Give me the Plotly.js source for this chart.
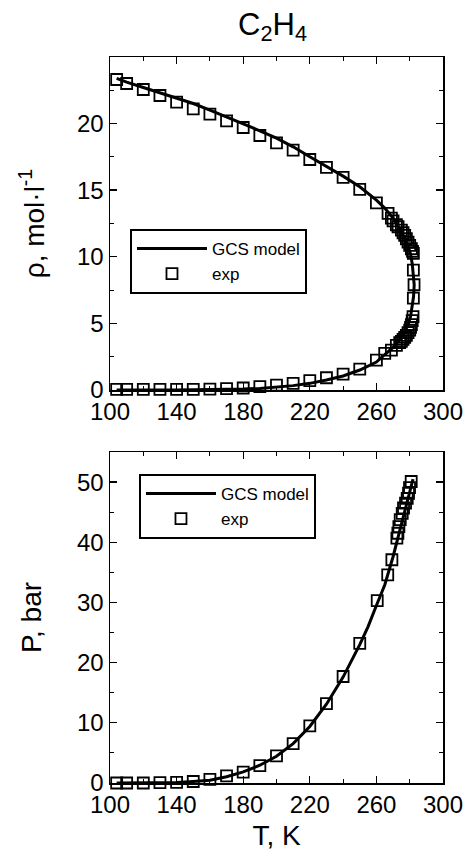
<!DOCTYPE html>
<html><head><meta charset="utf-8">
<script src="https://cdn.plot.ly/plotly-3.0.1.min.js"></script>
<style>html,body{margin:0;padding:0;background:#fff}#chart{width:465px;height:854px}</style>
</head><body><div id="chart"></div><script>
// ---- Top panel: density (mol/l) vs T (K) ----
const rhoExpT = [104, 110, 120, 130, 140, 150, 160, 170, 180, 190, 200, 210, 220, 230, 240, 250, 260, 267, 269, 270, 272, 273, 275, 276, 277, 278, 279, 280, 281, 281.7, 282.2,
  282.2, 282.6, 282.2,
  282, 281.5, 281, 280.5, 280, 279, 278, 277, 276, 275, 274, 272, 269, 265, 260, 250, 240, 230, 220, 210, 200, 190, 180, 170, 160, 150, 140, 130, 120, 110, 104];
const rhoExp = [23.3, 23.0, 22.55, 22.1, 21.6, 21.1, 20.7, 20.2, 19.7, 19.1, 18.55, 18.0, 17.3, 16.7, 15.95, 15.05, 14.05, 13.25, 12.9, 12.7, 12.4, 12.25, 12.0, 11.8, 11.6, 11.35, 11.1, 10.85, 10.6, 10.4, 10.25,
  9.0, 7.9, 6.9,
  5.5, 5.2, 4.9, 4.7, 4.5, 4.3, 4.1, 3.95, 3.8, 3.65, 3.55, 3.35, 3.0, 2.75, 2.25, 1.57, 1.2, 0.92, 0.7, 0.5, 0.37, 0.25, 0.15, 0.1, 0.07, 0.05, 0.05, 0.05, 0.05, 0.05, 0.05];
const rhoModelT = [104, 110, 120, 130, 140, 150, 160, 170, 180, 190, 200, 210, 220, 230, 240, 250, 260, 265, 270, 274, 277, 279, 280.5, 281.5, 282.3, 282.7,
  282.3, 281.5, 280.5, 279, 277, 274, 270, 265, 260, 250, 240, 230, 220, 210, 200, 190, 180, 170, 160, 150, 140, 130, 120, 110, 104];
const rhoModel = [23.38, 23.1, 22.7, 22.3, 21.95, 21.5, 21.0, 20.5, 20.0, 19.45, 18.9, 18.25, 17.5, 16.8, 16.05, 15.25, 14.25, 13.65, 12.9, 12.1, 11.4, 10.8, 10.2, 9.5, 8.7, 7.9,
  7.0, 6.2, 5.5, 4.9, 4.35, 3.8, 3.2, 2.65, 2.1, 1.5, 1.05, 0.75, 0.5, 0.33, 0.2, 0.12, 0.07, 0.04, 0.02, 0.01, 0.005, 0, 0, 0, 0];

// ---- Bottom panel: pressure (bar) vs T (K) ----
const pExpT = [104, 110, 120, 130, 140, 150, 160, 170, 180, 190, 200, 210, 220, 230, 240, 250, 260.5, 266.8, 269.3, 272.3, 272.9, 273.5, 274.3, 275.5, 276.3, 277.5, 278.5, 279.3, 279.9, 280.9];
const pExp = [0.0, 0.0, 0.0, 0.05, 0.1, 0.25, 0.6, 1.2, 1.8, 2.9, 4.5, 6.55, 9.5, 13.2, 17.7, 23.2, 30.3, 34.6, 37.1, 40.7, 41.5, 42.6, 43.75, 44.8, 45.7, 46.5, 47.3, 48.15, 49.1, 50.1];
const pModelT = [104, 110, 120, 130, 140, 150, 160, 170, 180, 190, 200, 210, 220, 230, 240, 250, 255, 260, 265, 270, 275, 280, 282];
const pModel = [0.0, 0.0, 0.01, 0.03, 0.1, 0.25, 0.45, 1.05, 1.85, 2.95, 4.45, 6.55, 9.4, 13.1, 17.6, 23.0, 26.0, 29.5, 32.9, 37.6, 43.0, 48.4, 50.5];

const seriesNames = ['GCS model', 'exp'];
const titleText = 'C<sub>2</sub>H<sub>4</sub>';
const xTitle = 'T, K';
const y1Title = 'ρ, mol·l<sup>-1</sup>';
const y2Title = 'P, bar';

const FONT = '"Liberation Sans", Arial, Helvetica, sans-serif';
const expMarker = {symbol: 'square-open', size: 11, color: '#000', line: {color: '#000', width: 1.8}};
const modelLine = {color: '#000', width: 3};

const traces = [
  {x: rhoExpT, y: rhoExp, xaxis: 'x', yaxis: 'y', type: 'scatter', mode: 'markers', name: seriesNames[1], marker: expMarker, cliponaxis: false, legend: 'legend', legendrank: 2},
  {x: rhoModelT, y: rhoModel, xaxis: 'x', yaxis: 'y', type: 'scatter', mode: 'lines', name: seriesNames[0], line: modelLine, cliponaxis: false, legend: 'legend', legendrank: 1},
  {x: pExpT, y: pExp, xaxis: 'x2', yaxis: 'y2', type: 'scatter', mode: 'markers', name: seriesNames[1], marker: expMarker, cliponaxis: false, legend: 'legend2', legendrank: 2},
  {x: pModelT, y: pModel, xaxis: 'x2', yaxis: 'y2', type: 'scatter', mode: 'lines', name: seriesNames[0], line: modelLine, cliponaxis: false, legend: 'legend2', legendrank: 1}
];

const axBase = {
  showline: true, linecolor: '#000', linewidth: 1.5, mirror: 'allticks',
  ticks: 'inside', ticklen: 7, tickwidth: 1.3, tickcolor: '#000',
  showgrid: false, zeroline: false,
  tickfont: {family: FONT, size: 24, color: '#000'}
};
const minorX = {ticks: 'inside', ticklen: 4, tickwidth: 1, tickcolor: '#000', dtick: 20, tick0: 100, showgrid: false};
const legBase = {xanchor: 'left', yanchor: 'top', bordercolor: '#000', borderwidth: 2, bgcolor: '#fff',
  font: {family: FONT, size: 17, color: '#000'}, itemwidth: 70, traceorder: 'normal'};

const layout = {
  width: 465, height: 854,
  margin: {l: 110, r: 22, t: 57, b: 71},
  paper_bgcolor: '#fff', plot_bgcolor: '#fff',
  font: {family: FONT, color: '#000'},
  showlegend: true,
  title: {text: titleText, font: {family: FONT, size: 31, color: '#000'},
    xref: 'container', x: 0.586, xanchor: 'center', yref: 'container', y: 0.972, yanchor: 'middle'},
  xaxis: Object.assign({}, axBase, {anchor: 'y', range: [100, 300], dtick: 40, tick0: 100, minor: minorX}),
  yaxis: Object.assign({}, axBase, {anchor: 'x', domain: [0.5413, 1], range: [0, 24.99], dtick: 5, tick0: 0,
    minor: {ticks: 'inside', ticklen: 4, tickwidth: 1, tickcolor: '#000', dtick: 2.5, tick0: 0, showgrid: false},
    title: {text: y1Title, font: {family: FONT, size: 28, color: '#000'}, standoff: 24}}),
  xaxis2: Object.assign({}, axBase, {anchor: 'y2', range: [100, 300], dtick: 40, tick0: 100, minor: minorX,
    title: {text: xTitle, font: {family: FONT, size: 28, color: '#000'}, standoff: 8}}),
  yaxis2: Object.assign({}, axBase, {anchor: 'x2', domain: [0, 0.4559], range: [0, 55], dtick: 10, tick0: 0,
    minor: {ticks: 'inside', ticklen: 4, tickwidth: 1, tickcolor: '#000', dtick: 5, tick0: 0, showgrid: false},
    title: {text: y2Title, font: {family: FONT, size: 28, color: '#000'}, standoff: 27}}),
  legend: Object.assign({}, legBase, {x: 0.06, y: 0.763}),
  legend2: Object.assign({}, legBase, {x: 0.087, y: 0.4256})
};

Plotly.newPlot('chart', traces, layout, {displayModeBar: false, staticPlot: true});
</script></body></html>
